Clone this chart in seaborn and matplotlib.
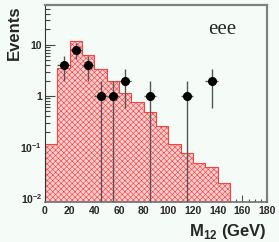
import numpy as np
import matplotlib
matplotlib.use("Agg")
import matplotlib.pyplot as plt
import seaborn as sns

# ---- data ----
bin_edges = [0, 10, 20, 30, 40, 50, 60, 70, 80, 90, 100, 110, 120, 130, 140, 150]
mc_values = [0.115, 3.5, 12.1, 6.4, 3.3, 2.0, 1.13, 0.76, 0.49, 0.26, 0.115, 0.076, 0.048, 0.041, 0.020]
data_x = [15, 25, 35, 45, 55, 65, 85, 115, 135]
data_y = [4, 8, 4, 1, 1, 2, 1, 1, 2]
y_ticks = [0.01, 0.1, 1, 10]
y_ticklabels = [r"$\mathbf{10^{-2}}$", r"$\mathbf{10^{-1}}$", "1", "10"]
x_ticks = [0, 20, 40, 60, 80, 100, 120, 140, 160, 180]
label_text = "eee"

sns.set_style("ticks")
plt.rcParams["font.family"] = ["Liberation Sans", "DejaVu Sans"]
plt.rcParams["mathtext.fontset"] = "custom"
plt.rcParams["mathtext.bf"] = "Liberation Sans:bold"
plt.rcParams["mathtext.rm"] = "Liberation Sans"
plt.rcParams["hatch.linewidth"] = 0.45

bg = "#f5fcf7"
fig = plt.figure(figsize=(2.79, 2.42), dpi=100, facecolor=bg)
ax = fig.add_axes([45 / 279, 40 / 242, 222 / 279, 197 / 242])
ax.set_facecolor(bg)
ax.set_yscale("log")

centers = [(a + b) / 2 for a, b in zip(bin_edges[:-1], bin_edges[1:])]
sns.histplot(x=centers, weights=mc_values, bins=bin_edges, element="step",
             fill=True, ax=ax, facecolor="#fbd2d2", edgecolor="#ff4040",
             hatch="xxxxxx", linewidth=0.8, alpha=1.0)

yerr = np.sqrt(np.array(data_y, dtype=float))
ax.errorbar(data_x, data_y, yerr=yerr, xerr=5, fmt="o", color="black",
            ecolor="#555555", elinewidth=1.0, markersize=5.5, capsize=0, zorder=5)

ax.set_xlim(0, 180)
ax.set_ylim(0.0084, 60)
ax.set_xticks(x_ticks)
ax.set_xticklabels([str(t) for t in x_ticks], fontweight="bold", fontsize=7.5)
ax.xaxis.set_minor_locator(matplotlib.ticker.MultipleLocator(5))
ax.set_yticks(y_ticks)
ax.set_yticklabels(y_ticklabels, fontweight="bold", fontsize=7.5)
ax.yaxis.set_minor_locator(matplotlib.ticker.LogLocator(base=10, subs=np.arange(2, 10)))
ax.yaxis.set_minor_formatter(matplotlib.ticker.NullFormatter())

ax.tick_params(axis="y", which="major", direction="in", length=7, width=0.8, color="#444444", pad=2)
ax.tick_params(axis="y", which="minor", direction="in", length=3.5, width=0.8, color="#444444")
ax.tick_params(axis="x", which="major", direction="in", length=5, width=0.8, color="#555555", pad=3)
ax.tick_params(axis="x", which="minor", direction="in", length=2.5, width=0.8, color="#555555")

for side in ["top", "right"]:
    ax.spines[side].set_visible(True)
    ax.spines[side].set_color("#808080")
    ax.spines[side].set_linewidth(1.6)
ax.spines["left"].set_color("#333333")
ax.spines["left"].set_linewidth(0.8)
ax.spines["bottom"].set_color("#707070")
ax.spines["bottom"].set_linewidth(1.2)

ax.set_xlabel(r"M$_{\mathbf{12}}$ (GeV)", loc="right", fontsize=12, fontweight="bold", labelpad=4)
ax.set_ylabel("Events", loc="top", fontsize=12, fontweight="bold")
ax.yaxis.set_label_coords(-0.102, 1.0)
ax.text(0.735, 0.855, label_text, transform=ax.transAxes, fontsize=15,
        family=["Liberation Serif", "DejaVu Serif"])

fig.savefig("out.png", dpi=100, facecolor=bg)
